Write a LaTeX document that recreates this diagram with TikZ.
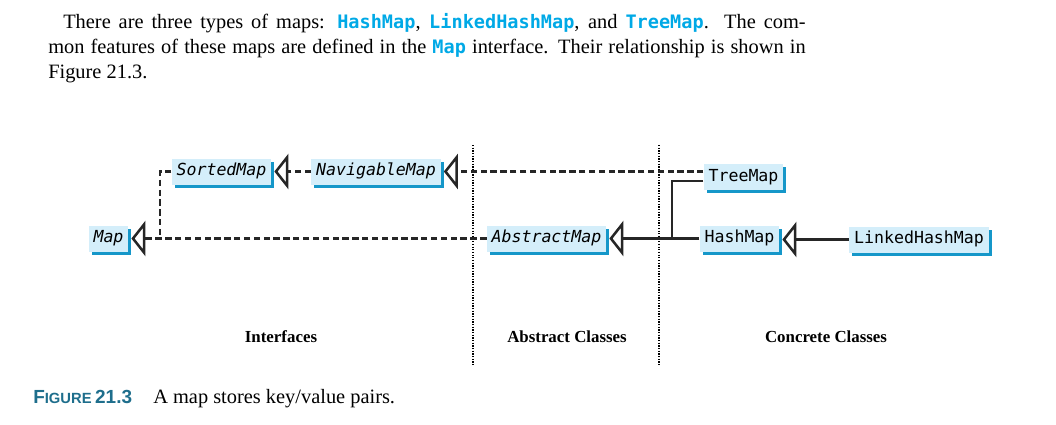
\documentclass[tikz,border=0pt]{standalone}
\usepackage{fontspec}
\setmainfont{Liberation Serif}
\setsansfont{Liberation Sans}
\setmonofont{DejaVu Sans Mono}
\newfontfamily\codefont[Scale=0.91]{DejaVu Sans Mono}
\usepackage{tikz}
\usetikzlibrary{arrows.meta}
\usetikzlibrary{shadows}
\definecolor{codeblue}{HTML}{00A9E6}
\definecolor{boxblue}{HTML}{D4EEFA}
\definecolor{shadowblue}{HTML}{1597C9}
\definecolor{captionteal}{HTML}{1E6E8C}
\newcommand{\code}[1]{{\codefont\bfseries\color{codeblue}#1}}
\tikzset{
  mapbox/.style={fill=boxblue, font=\fontsize{11.8}{13}\selectfont\ttfamily,
    inner xsep=3.4pt, inner ysep=0pt, text height=8.8pt, text depth=2.6pt,
    minimum height=18.5pt,
    drop shadow={shadow xshift=2.2pt, shadow yshift=-2.2pt, fill=shadowblue, opacity=1}},
  ifacebox/.style={mapbox, font=\fontsize{11.8}{13}\selectfont\ttfamily\itshape},
  realize/.style={dash pattern=on 4.5pt off 2.5pt, line width=1.8pt, draw=black!85},
  extend/.style={line width=1.8pt, draw=black!85},
  divider/.style={dash pattern=on 0.9pt off 1pt, line width=0.9pt},
  inherits/.style={-{Triangle[open, length=10pt, width=25pt, line width=1.8pt]}}
}

\begin{document}
\begin{tikzpicture}[x=0.025cm, y=-0.025cm]
  \useasboundingbox (0,0) rectangle (1056,424);

  \node [anchor=north west, text width=18.93cm, align=justify, inner sep=0pt,
    font=\fontsize{14.5}{17.8}\selectfont] (intro) at (48,13)
    {\hspace*{0.375cm}There are three types of maps: \code{HashMap}, \code{LinkedHashMap}, and
     \code{TreeMap}. The com-\linebreak mon features of these maps are defined in the
     \code{Map} interface. Their relationship is shown in\linebreak Figure 21.3.};

  \draw [divider] (473,145) -- (473,366);
  \draw [divider] (659,145) -- (659,366);

  \node [ifacebox] (Map) at (108.5,238.5) {Map};
  \node [ifacebox] (SortedMap) at (221.5,171.5) {SortedMap};
  \node [ifacebox] (NavigableMap) at (376,171.5) {NavigableMap};
  \node [ifacebox] (AbstractMap) at (546.5,238.5) {AbstractMap};
  \node [mapbox] (TreeMap) at (743.5,177) {TreeMap};
  \node [mapbox] (HashMap) at (739.5,238.5) {HashMap};
  \node [mapbox] (LinkedHashMap) at (919,239.5) {LinkedHashMap};

  \coordinate (join) at (160,238.5);
  \coordinate (branch) at (672,238.5);

  \draw [realize, inherits] (AbstractMap.west) -- ([xshift=2pt]Map.east);
  \draw [realize] (SortedMap.west) -| (join);
  \draw [realize, inherits] (NavigableMap.west) -- ([xshift=2pt]SortedMap.east);
  \draw [realize, inherits] (TreeMap.west |- NavigableMap) -- ([xshift=2pt]NavigableMap.east);
  \draw [extend] ([yshift=-0.1cm]TreeMap.west) -| (branch);
  \draw [extend, inherits] (HashMap.west) -- ([xshift=2pt]AbstractMap.east);
  \draw [extend, inherits] (LinkedHashMap.west) -- ([xshift=2pt]HashMap.east |- LinkedHashMap);

  \node [anchor=base, font=\bfseries\fontsize{12}{14}\selectfont] (ifaces) at (281,342) {Interfaces};
  \node [anchor=base, font=\bfseries\fontsize{12}{14}\selectfont] (abstracts) at (567,342) {Abstract Classes};
  \node [anchor=base, font=\bfseries\fontsize{12}{14}\selectfont] (concretes) at (826,342) {Concrete Classes};

  \node [anchor=base west, inner sep=0pt, text=captionteal, font=\sffamily\bfseries] (figlabel) at (33,403)
    {{\fontsize{13.5}{15}\selectfont F}{\fontsize{10.5}{12}\selectfont IGURE}\hspace{0.25em}{\fontsize{13.5}{15}\selectfont 21.3}};
  \node [anchor=base west, inner sep=0pt, font=\fontsize{14.5}{17}\selectfont] (figtext) at (153,403)
    {A map stores key/value pairs.};
\end{tikzpicture}
\end{document}
